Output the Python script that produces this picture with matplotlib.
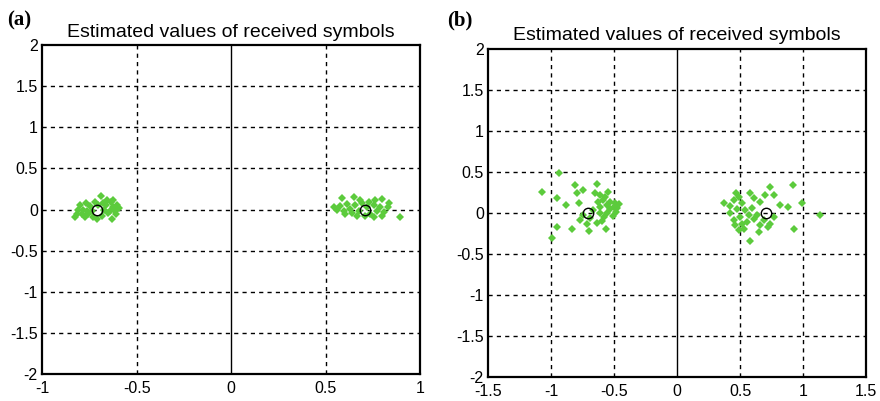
import numpy as np
import matplotlib.pyplot as plt

# Received symbol estimates, panel (a)
a_left_x = [-0.817, -0.826, -0.799, -0.781, -0.767, -0.755, -0.746, -0.732, -0.720, -0.702,
            -0.690, -0.684, -0.672, -0.658, -0.649, -0.637, -0.626, -0.614, -0.601, -0.591,
            -0.631, -0.711, -0.790, -0.764, -0.737, -0.661, -0.640, -0.773, -0.675, -0.609,
            -0.808, -0.623]
a_left_y = [-0.052, -0.093, 0.049, -0.004, 0.077, -0.052, 0.037, -0.093, 0.090, 0.049,
            0.159, -0.073, -0.004, 0.110, -0.044, 0.090, 0.029, -0.012, 0.061, 0.021,
            -0.113, -0.113, -0.052, -0.012, -0.012, 0.049, -0.012, -0.085, 0.077, -0.052,
            -0.004, 0.110]
a_right_x = [0.541, 0.585, 0.559, 0.594, 0.612, 0.647, 0.630, 0.656, 0.674, 0.638,
             0.691, 0.718, 0.735, 0.753, 0.797, 0.832, 0.827, 0.771, 0.806, 0.753,
             0.797, 0.891, 0.709, 0.603, 0.577, 0.682, 0.727, 0.788, 0.665, 0.762]
a_right_y = [0.029, 0.143, -0.004, -0.012, 0.069, 0.151, 0.008, 0.049, -0.012, -0.044,
             0.077, 0.029, -0.052, 0.049, 0.131, 0.077, 0.029, -0.012, -0.032, -0.093,
             -0.073, -0.093, -0.073, -0.052, 0.037, 0.110, 0.090, 0.029, -0.073, 0.118]

# Received symbol estimates, panel (b)
b_left_x = [-0.934, -1.074, -0.810, -0.638, -0.749, -0.791, -0.651, -0.950, -0.881, -0.775,
            -0.611, -0.572, -0.585, -0.532, -0.558, -0.492, -0.458, -0.611, -0.532, -0.484,
            -0.558, -0.611, -0.511, -0.744, -0.770, -0.691, -0.633, -0.598, -0.955, -0.836,
            -0.712, -0.696, -0.564, -0.995, -0.500, -0.580, -0.625, -0.545, -0.664, -0.474]
b_left_y = [0.488, 0.256, 0.337, 0.349, 0.276, 0.236, 0.244, 0.183, 0.093, 0.114,
            0.215, 0.195, 0.154, 0.134, 0.093, 0.114, 0.106, 0.065, 0.040, 0.012,
            -0.008, -0.008, -0.041, -0.029, -0.090, -0.069, -0.122, -0.098, -0.179, -0.203,
            -0.138, -0.220, -0.203, -0.313, 0.073, -0.049, 0.134, 0.256, 0.032, 0.053]
b_right_x = [0.368, 0.468, 0.487, 0.574, 0.611, 0.733, 0.699, 0.770, 0.918, 0.447,
             0.513, 0.654, 0.818, 0.876, 0.990, 0.421, 0.474, 0.540, 0.593, 0.632,
             0.500, 0.447, 0.553, 0.513, 0.487, 0.659, 0.717, 0.646, 0.770, 0.580,
             0.923, 1.130, 0.421, 0.566, 0.460, 0.685, 0.527, 0.606, 0.733]
b_right_y = [0.122, 0.244, 0.195, 0.244, 0.175, 0.309, 0.215, 0.215, 0.337, 0.154,
             0.122, 0.134, 0.093, 0.073, 0.122, 0.000, 0.041, 0.032, 0.053, -0.029,
             -0.049, -0.090, -0.110, -0.138, -0.211, -0.150, -0.179, -0.232, -0.049, -0.342,
             -0.203, -0.033, 0.081, -0.029, -0.150, -0.090, -0.203, -0.081, -0.138]

# Reference constellation points (BPSK at +-1/sqrt(2))
const_x = [-0.707, 0.707]
const_y = [0.0, 0.0]

a_xticks = [-1, -0.5, 0, 0.5, 1]
b_xticks = [-1.5, -1, -0.5, 0, 0.5, 1, 1.5]
yticks = [-2, -1.5, -1, -0.5, 0, 0.5, 1, 1.5, 2]

plt.rcParams['font.family'] = ['Liberation Sans', 'DejaVu Sans']

GREEN = '#5ccb3c'


def fmt(v):
    return f"{v:g}"


def draw_panel(ax, xs, ys, xticks):
    for x, y in zip(xs, ys):
        ax.plot(x, y, 'D', color=GREEN, markersize=3.6, markeredgewidth=0, zorder=3)
    ax.plot(const_x, const_y, 'o', mfc='none', mec='black', markersize=7.5,
            markeredgewidth=1.0, zorder=4)
    ax.set_xlim(xticks[0], xticks[-1])
    ax.set_ylim(-2, 2)
    ax.set_xticks(xticks)
    ax.set_yticks(yticks)
    ax.set_xticklabels([fmt(v) for v in xticks])
    ax.set_yticklabels([fmt(v) for v in yticks])
    # MATLAB-style dashed grid, solid line at x = 0
    for v in xticks[1:-1]:
        if v == 0:
            ax.axvline(0, color='black', lw=1.0, zorder=1)
        else:
            ax.axvline(v, color='black', lw=1.0, ls=(0, (3, 3)), zorder=1)
    for v in yticks[1:-1]:
        ax.axhline(v, color='black', lw=1.0, ls=(0, (3, 3)), zorder=1)
    ax.tick_params(direction='in', length=0, labelsize=11.5)
    ax.tick_params(axis='x', pad=5)
    ax.tick_params(axis='y', pad=3)
    for sp in ax.spines.values():
        sp.set_linewidth(1.6)
    ax.set_title('Estimated values of received symbols', fontsize=14, pad=6)


fig = plt.figure(figsize=(8.8, 4.01), dpi=100)
ax1 = fig.add_axes([0.0477, 0.067, 0.430, 0.821])
ax2 = fig.add_axes([0.5545, 0.060, 0.430, 0.819])

draw_panel(ax1, a_left_x + a_right_x, a_left_y + a_right_y, a_xticks)
draw_panel(ax2, b_left_x + b_right_x, b_left_y + b_right_y, b_xticks)

fig.text(7 / 880, 1 - 20 / 401, '(a)', fontsize=15, fontweight='bold',
         family='Liberation Serif', va='center', ha='left')
fig.text(447 / 880, 1 - 20 / 401, '(b)', fontsize=15, fontweight='bold',
         family='Liberation Serif', va='center', ha='left')

fig.savefig('out.png', dpi=100)
